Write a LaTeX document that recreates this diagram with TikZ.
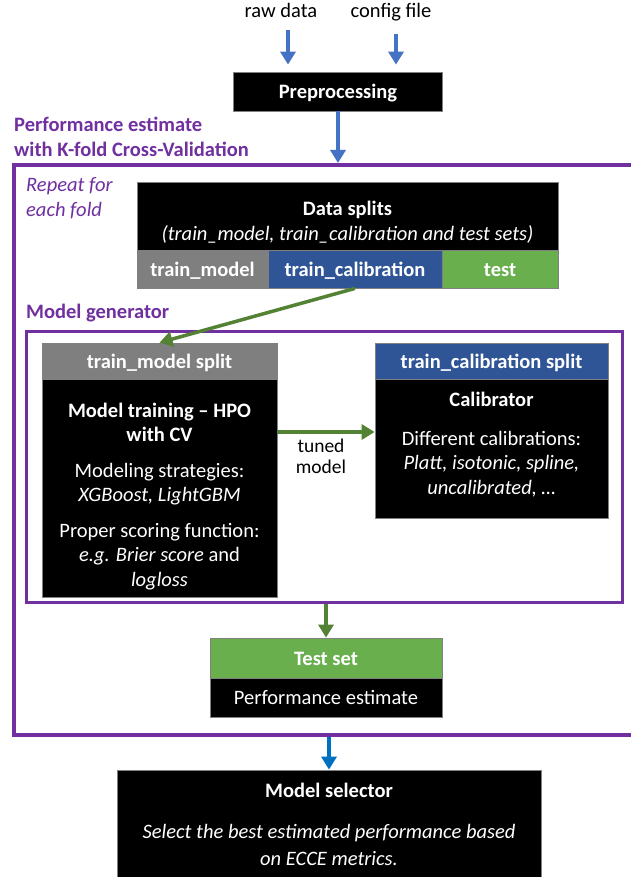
\documentclass[tikz,border=0pt]{standalone}
\usepackage{fontspec}
\setmainfont{Carlito}
\usetikzlibrary{arrows.meta,calc}
\definecolor{frameP}{HTML}{7030A0}
\definecolor{arrB}{HTML}{4472C4}
\definecolor{arrB2}{HTML}{0070C0}
\definecolor{arrG}{HTML}{548235}
\definecolor{hdrGray}{HTML}{7F7F7F}
\definecolor{hdrBlue}{HTML}{2F5597}
\definecolor{hdrGreen}{HTML}{6AAF4E}
\definecolor{boxLine}{HTML}{808080}
\tikzset{
  txt/.style={inner sep=0pt, font=\fontsize{20.5}{24.5}\selectfont},
  wtxt/.style={txt, text=white},
  ptxt/.style={txt, text=frameP},
  onebox/.style={draw=boxLine, line width=0.8pt, inner sep=0pt, text=white,
    font=\fontsize{20.5}{24.5}\selectfont, text height=14pt, text depth=0pt},
  blackbox/.style={onebox, fill=black},
  framebox/.style={draw=frameP, inner sep=0pt},
  barrow/.style={draw=arrB, line width=3.5pt, -{Triangle[width=15pt,length=13pt]}},
  barrowb/.style={draw=arrB2, line width=3.5pt, -{Triangle[width=15pt,length=13pt]}},
  garrow/.style={draw=arrG, line width=3.5pt, -{Triangle[width=15pt,length=13pt]}},
}
\begin{document}
\begin{tikzpicture}[x=1pt,y=-1pt]
\useasboundingbox (0,0) rectangle (631,877);
\clip (0,0) rectangle (631,877);
\fill[white] (0,0) rectangle (631,877);

% inputs
\node[txt, anchor=base] (raw) at (281,18) {raw data};
\node[txt, anchor=base] (cfg) at (391,18) {config file};
\node[blackbox, minimum width=209pt, minimum height=39pt] (prep) at (338,91.5) {\bfseries Preprocessing};
\draw[barrow, shorten <=12pt, shorten >=7pt] ([xshift=7pt]raw.south) -- ([xshift=7pt]raw.south |- prep.north);
\draw[barrow, shorten <=12pt, shorten >=7pt] ([xshift=5pt]cfg.south) -- ([xshift=5pt]cfg.south |- prep.north);

% outer frame
\node[framebox, line width=4pt, minimum width=631pt, minimum height=570pt] (outer) at (329.5,450) {};
\node[ptxt, anchor=base west, text width=320pt, align=flush left, font=\fontsize{20.5}{25}\selectfont\bfseries] (perf) at (14,132)
  {Performance estimate\\with K-fold Cross-Validation};
\draw[barrow] (prep.south) -- (prep.south |- outer.north);
\node[ptxt, anchor=base west, text width=120pt, align=flush left, font=\fontsize{20.5}{25}\selectfont\itshape] (rep) at (26,192)
  {Repeat for\\each fold};

% data splits
\node[blackbox, minimum width=421pt, minimum height=68pt] (ds) at (347.5,216) {};
\node[wtxt, anchor=base, text width=420pt, align=flush center] (dst) at (347.5,216)
  {\textbf{Data splits}\\\textit{(train\_model, train\_calibration and test sets)}};
\node[onebox, fill=hdrGray, minimum width=131pt, minimum height=38pt] (tm) at (202.5,269) {\bfseries train\_model};
\node[onebox, fill=hdrBlue, minimum width=174pt, minimum height=38pt] (tc) at (355,269) {\bfseries train\_calibration};
\node[onebox, fill=hdrGreen, minimum width=116pt, minimum height=38pt] (te) at (500,269) {\bfseries test};

% model generator
\node[ptxt, anchor=base west, font=\fontsize{20.5}{24.5}\selectfont\bfseries] (mg) at (26,318) {Model generator};
\node[framebox, line width=3pt, minimum width=596pt, minimum height=271pt] (inner) at (324,466.5) {};

\node[onebox, fill=hdrGray, minimum width=235pt, minimum height=36pt] (tmh) at (159.5,361) {\bfseries train\_model split};
\node[blackbox, minimum width=235pt, minimum height=218pt] (tmb) at (159.5,488) {};
\node[wtxt, anchor=base, text width=232pt, align=flush center] (tmt) at (159.5,417)
  {\textbf{Model training – HPO}\\ \textbf{with CV}\\[11pt]
   Modeling strategies:\\ \textit{XGBoost, LightGBM}\\[11pt]
   Proper scoring function:\\ \textit{e.g. Brier score} and\\ \textit{logloss}};

\node[onebox, fill=hdrBlue, minimum width=233pt, minimum height=36pt] (tch) at (491.5,361) {\bfseries train\_calibration split};
\node[blackbox, minimum width=233pt, minimum height=139pt] (tcb) at (491.5,448.5) {};
\node[wtxt, anchor=base, text width=230pt, align=flush center] (tct) at (491.5,406)
  {\textbf{Calibrator}\\[14.5pt]
   Different calibrations:\\ \textit{Platt, isotonic, spline,}\\ \textit{uncalibrated, …}};

\draw[garrow] (tc.south) -- (tmh.north);
\coordinate (tun) at (326,432);
\draw[garrow] (tmb.east |- tun) -- (tcb.west |- tun);
\node[txt, anchor=base, text width=80pt, align=flush center, font=\fontsize{19.5}{21}\selectfont] (tunt) at (321,452) {tuned\\model};

% test set
\node[onebox, fill=hdrGreen, minimum width=232pt, minimum height=40pt] (tsh) at (326,658) {\bfseries Test set};
\node[blackbox, minimum width=232pt, minimum height=39pt] (tsb) at (326,697.5) {Performance estimate};
\draw[garrow] (tsh.north |- inner.south) -- (tsh.north);

% model selector
\node[blackbox, minimum width=424pt, minimum height=120pt] (ms) at (329,830) {};
\node[wtxt, anchor=base, text width=420pt, align=flush center, font=\fontsize{20.5}{27}\selectfont] (mst) at (329,797)
  {\textbf{Model selector}\\[14pt]
   \textit{Select the best estimated performance based}\\ \textit{on ECCE metrics.}};
\draw[barrowb] (ms.north |- outer.south) -- (ms.north);
\end{tikzpicture}
\end{document}
